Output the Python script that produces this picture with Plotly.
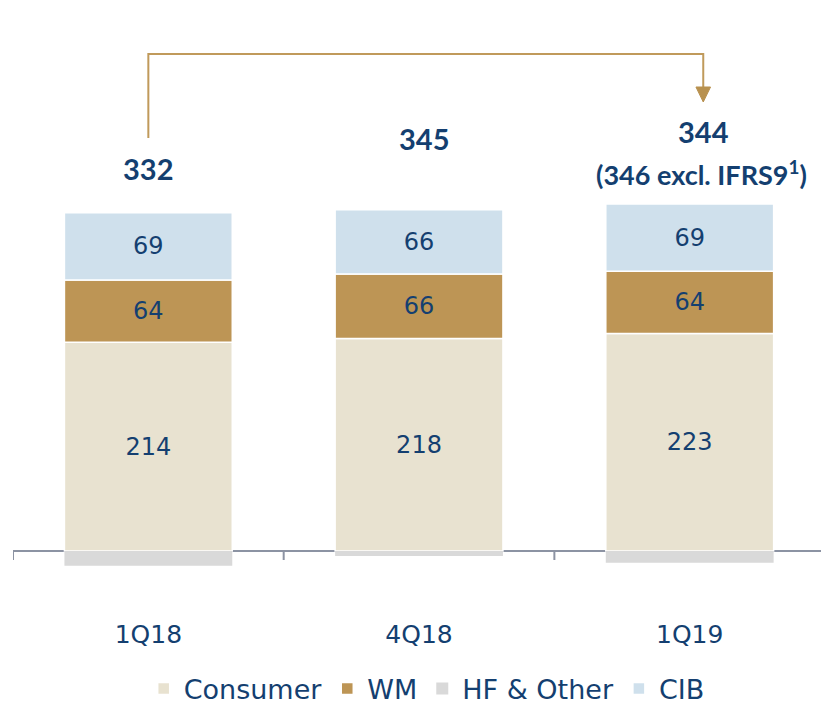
import plotly.graph_objects as go

categories = ["1Q18", "4Q18", "1Q19"]
consumer = [214, 218, 223]
wm = [64, 66, 64]
cib = [69, 66, 69]
hf_other = [-15, -5, -12]
totals = [332, 345, 344]
total_labels = ["332", "345", "344"]
note_label = "(346 excl. IFRS9<sup>1</sup>)"
growth_label = "+4%"

NAVY = "#143f70"
FONT = "DejaVu Sans, sans-serif"
BOLD = "Lato, sans-serif"

W, H = 821, 705
top_px, bot_px = 40, 600          # plot area in pixels
zero_px = 551
k = 0.975                          # px per unit
ymin = -(bot_px - zero_px) / k
ymax = (zero_px - top_px) / k


def py(p):
    """pixel row -> data y"""
    return (zero_px - p) / k


fig = go.Figure()
common = dict(x=categories, width=0.62, marker_line_color="white", marker_line_width=1.5,
              textposition="inside", insidetextanchor="middle",
              textfont=dict(color=NAVY, size=24, family=FONT), hoverinfo="skip")
fig.add_bar(name="Consumer", y=consumer, text=consumer, marker_color="#e8e2d0", **common)
fig.add_bar(name="WM", y=wm, text=wm, marker_color="#bd9555", **common)
fig.add_bar(name="HF & Other", y=hf_other, marker_color="#d9d9d9",
            x=categories, width=0.62, marker_line_width=0, hoverinfo="skip")
fig.add_bar(name="CIB", y=cib, text=cib, marker_color="#cfe0ec", **common)

fig.add_annotation(x=0, y=py(168), text=f"<b>{total_labels[0]}</b>", showarrow=False,
                   yanchor="middle", font=dict(size=29, color=NAVY, family=BOLD))
fig.add_annotation(x=1.02, y=py(138), text=f"<b>{total_labels[1]}</b>", showarrow=False,
                   yanchor="middle", font=dict(size=29, color=NAVY, family=BOLD))
fig.add_annotation(x=2.05, y=py(131), text=f"<b>{total_labels[2]}</b>", showarrow=False,
                   yanchor="middle", font=dict(size=29, color=NAVY, family=BOLD))
fig.add_annotation(x=2.045, y=py(173), text=f"<b>{note_label}</b>", showarrow=False,
                   yanchor="middle", font=dict(size=27, color=NAVY, family=BOLD))

GOLD = "#c09a5b"
# bracket
fig.add_shape(type="path", xref="x", yref="y",
              path=f"M 0,{py(138)} L 0,{py(54)} L 2.05,{py(54)} L 2.05,{py(90)}",
              line=dict(color=GOLD, width=2))
fig.add_shape(type="path", xref="x", yref="y",
              path=f"M {2.05-0.027},{py(87)} L {2.05+0.027},{py(87)} L 2.05,{py(102)} Z",
              fillcolor="#b8914f", line=dict(color="#b8914f", width=1))
fig.add_annotation(x=1.78, y=py(20), text=growth_label, showarrow=False,
                   font=dict(size=22, color=NAVY, family=FONT))

# small downward ticks at category boundaries
for b in [-0.5, 0.5, 1.5]:
    fig.add_shape(type="line", xref="x", yref="y", x0=b, x1=b, y0=0, y1=py(560),
                  line=dict(color="#8c93a3", width=2))

fig.update_layout(
    width=W, height=H, barmode="relative", bargap=0.38,
    margin=dict(l=13, r=0, t=top_px, b=H - bot_px),
    plot_bgcolor="white", paper_bgcolor="white",
    font=dict(family=FONT, color=NAVY),
    xaxis=dict(type="category", range=[-0.5, 2.485], showgrid=False, showline=False,
               ticks="", tickfont=dict(size=25, color=NAVY, family=FONT), fixedrange=True,
               ticklabelstandoff=17),
    yaxis=dict(range=[ymin, ymax], visible=True, showgrid=False, showticklabels=False,
               zeroline=True, zerolinecolor="#8c93a3", zerolinewidth=2, showline=False,
               fixedrange=True),
    legend=dict(orientation="h", x=0.512, xanchor="center", yref="container",
                y=(H - 689) / H, yanchor="middle",
                font=dict(size=27, color=NAVY, family=FONT), traceorder="normal",
                itemwidth=30),
    showlegend=True,
)
fig.write_html("out.html", config={"displayModeBar": False})

with open("out.html", encoding="utf-8") as f:
    html = f.read()
html = html.replace("<head>", "<head><style>html,body{margin:0;padding:0;overflow:hidden}</style>", 1)
with open("out.html", "w", encoding="utf-8") as f:
    f.write(html)
